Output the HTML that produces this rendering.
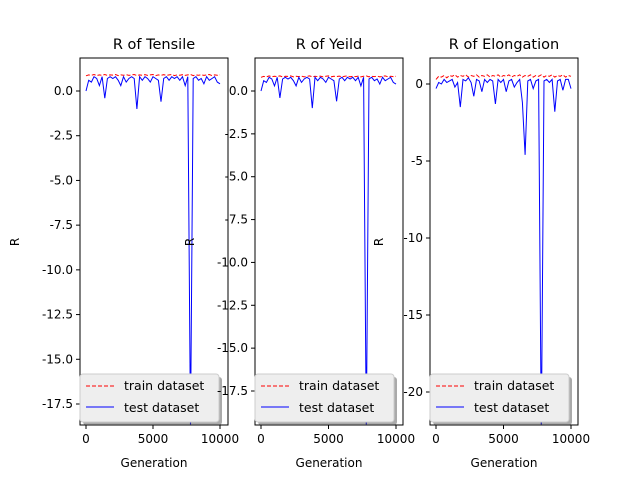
<!DOCTYPE html>
<html><head><meta charset="utf-8"><style>
body{margin:0;background:#fff;font-family:"Liberation Sans","DejaVu Sans",sans-serif}
svg text{font-family:"DejaVu Sans","Liberation Sans",sans-serif}
</style></head><body>
<svg id="fig" width="640" height="480" xmlns="http://www.w3.org/2000/svg"></svg>
<script>
const generations=[0,200,400,600,800,1000,1200,1400,1600,1800,2000,2200,2400,2600,2800,3000,3200,3400,3600,3800,4000,4200,4400,4600,4800,5000,5200,5400,5600,5800,6000,6200,6400,6600,6800,7000,7200,7400,7600,7800,8000,8200,8400,8600,8800,9000,9200,9400,9600,9800,10000];
const tensileTrain=[0.85,0.9,0.88,0.92,0.86,0.9,0.88,0.92,0.87,0.9,0.89,0.92,0.86,0.9,0.88,0.91,0.87,0.9,0.92,0.86,0.9,0.88,0.91,0.87,0.9,0.92,0.86,0.9,0.88,0.91,0.87,0.9,0.92,0.86,0.9,0.88,0.91,0.87,0.9,0.92,0.86,0.9,0.88,0.91,0.87,0.9,0.92,0.86,0.9,0.88,0.9];
const tensileTest=[0.0,0.6,0.5,0.8,0.7,0.3,0.8,-0.4,0.7,0.8,0.7,0.8,0.6,0.3,0.8,0.5,0.7,0.8,0.7,-1.0,0.8,0.6,0.8,0.7,0.5,0.8,0.7,0.6,-0.6,0.7,0.8,0.6,0.8,0.7,0.8,0.6,0.8,0.3,0.8,-19,0.7,0.8,0.6,0.7,0.4,0.8,0.6,0.7,0.8,0.5,0.4];
const yieldTrain=[0.8,0.85,0.82,0.88,0.83,0.86,0.84,0.88,0.82,0.86,0.85,0.88,0.83,0.86,0.84,0.87,0.82,0.86,0.88,0.83,0.86,0.84,0.87,0.82,0.86,0.88,0.83,0.86,0.84,0.87,0.82,0.86,0.88,0.83,0.86,0.84,0.87,0.82,0.86,0.88,0.83,0.86,0.84,0.87,0.82,0.86,0.88,0.83,0.86,0.84,0.86];
const yieldTest=[0.0,0.6,0.5,0.8,0.7,0.3,0.8,-0.4,0.7,0.8,0.7,0.8,0.6,0.3,0.8,0.5,0.7,0.8,0.7,-1.0,0.8,0.6,0.8,0.7,0.5,0.8,0.7,0.6,-0.6,0.7,0.8,0.6,0.8,0.7,0.8,0.6,0.8,0.3,0.8,-20,0.7,0.8,0.6,0.7,0.4,0.8,0.6,0.7,0.8,0.5,0.4];
const elongTrain=[0.3,0.5,0.45,0.55,0.4,0.55,0.5,0.6,0.45,0.55,0.5,0.6,0.45,0.55,0.5,0.6,0.45,0.55,0.5,0.6,0.45,0.55,0.5,0.6,0.45,0.55,0.5,0.6,0.45,0.55,0.5,0.6,0.45,0.55,0.5,0.6,0.45,0.55,0.5,0.6,0.45,0.55,0.5,0.6,0.45,0.55,0.5,0.6,0.45,0.55,0.5];
const elongTest=[-0.3,0.1,0.0,0.3,0.1,0.2,0.3,-0.2,0.1,-1.5,0.3,0.2,0.4,0.1,-0.8,0.3,0.2,-0.5,0.3,0.1,0.3,0.2,-1.3,0.3,0.1,0.3,-0.5,0.2,0.3,-0.2,0.1,0.3,-1.2,-4.6,0.2,0.3,-0.3,0.2,0.3,-23,0.2,0.3,0.1,0.3,-1.8,0.2,0.3,-0.4,0.3,0.3,-0.3];
const tensileTicks=[0,-2.5,-5,-7.5,-10,-12.5,-15,-17.5];
const elongTicks=[0,-5,-10,-15,-20];
const xTicks=[0,5000,10000];

const svg=document.getElementById('fig');
const NS='http://www.w3.org/2000/svg';
function mk(tag,attrs,parent){const e=document.createElementNS(NS,tag);for(const k in attrs)e.setAttribute(k,attrs[k]);(parent||svg).appendChild(e);return e;}

function panel(cfg){
  const g=mk('g',{});
  
  
  const L=cfg.left,R=cfg.left+148,T=58,B=425;
  const xs=v=>cfg.x0+(v/10000)*(cfg.x1-cfg.x0);
  const ys=v=>cfg.y0+(v/cfg.yref)*(cfg.y1-cfg.y0);
  const cp='clip'+cfg.name;
  const d=mk('clipPath',{id:cp},g);mk('rect',{x:L,y:T,width:R-L,height:B-T},d);
  const pts=a=>a.map((v,i)=>xs(generations[i]).toFixed(1)+','+ys(v).toFixed(1)).join(' ');
  const tr=mk('polyline',{points:pts(cfg.train),fill:'none',stroke:'#ff0000','stroke-width':1,'stroke-dasharray':'4,2','clip-path':`url(#${cp})`},g);
  
  
  const te=mk('polyline',{points:pts(cfg.test),fill:'none',stroke:'#0000ff','stroke-width':1,'clip-path':`url(#${cp})`},g);
  
  
  mk('rect',{x:L,y:T,width:R-L,height:B-T,fill:'none',stroke:'#000','stroke-width':1},g);
  cfg.ticks.forEach(t=>{const y=ys(t);mk('line',{x1:L-4,x2:L,y1:y,y2:y,stroke:'#000'},g);
    const tx=mk('text',{x:L-7,y:y+4,'text-anchor':'end','font-size':12},g);tx.textContent=cfg.fmt(t);
    });
  xTicks.forEach(t=>{const x=xs(t);mk('line',{x1:x,x2:x,y1:B,y2:B+4,stroke:'#000'},g);
    const tx=mk('text',{x:x,y:B+18,'text-anchor':'middle','font-size':12},g);tx.textContent=t;
    });
  const ti=mk('text',{x:(L+R)/2,y:49,'text-anchor':'middle','font-size':14.5},g);ti.textContent=cfg.title;
  
  const xl=mk('text',{x:(L+R)/2,y:467,'text-anchor':'middle','font-size':12},g);xl.textContent='Generation';
  
  const yl=mk('text',{x:0,y:0,'text-anchor':'middle','font-size':12,transform:`translate(${cfg.ylx},242) rotate(-90)`},g);yl.textContent='R';
  
  const lg=mk('g',{},g);
  
  
  mk('rect',{x:L+3,y:377,width:139,height:48,rx:3,fill:'#555',opacity:0.5},lg);
  mk('rect',{x:L,y:374,width:139,height:48,rx:3,fill:'#eeeeee',stroke:'#ccc'},lg);
  mk('line',{x1:L+6,x2:L+34,y1:386,y2:386,stroke:'#f00','stroke-dasharray':'4,2'},lg);
  const t1=mk('text',{x:L+44,y:390,'font-size':12.5},lg);t1.textContent='train dataset';
  mk('line',{x1:L+6,x2:L+34,y1:407,y2:407,stroke:'#00f'},lg);
  const t2=mk('text',{x:L+44,y:412,'font-size':12.5},lg);t2.textContent='test dataset';
}
const f1=t=>t.toFixed(1);
panel({name:'tensile-panel',title:'R of Tensile',left:80,x0:86,x1:220,y0:91,y1:404,yref:-17.5,ticks:tensileTicks,fmt:f1,train:tensileTrain,test:tensileTest,ylx:19});
panel({name:'yield-panel',title:'R of Yeild',left:255,x0:261,x1:396,y0:91,y1:391,yref:-17.5,ticks:tensileTicks,fmt:f1,train:yieldTrain,test:yieldTest,ylx:194});
panel({name:'elongation-panel',title:'R of Elongation',left:430,x0:436,x1:571,y0:84,y1:392,yref:-20,ticks:elongTicks,fmt:t=>String(t),train:elongTrain,test:elongTest,ylx:383});
</script>
</body></html>
